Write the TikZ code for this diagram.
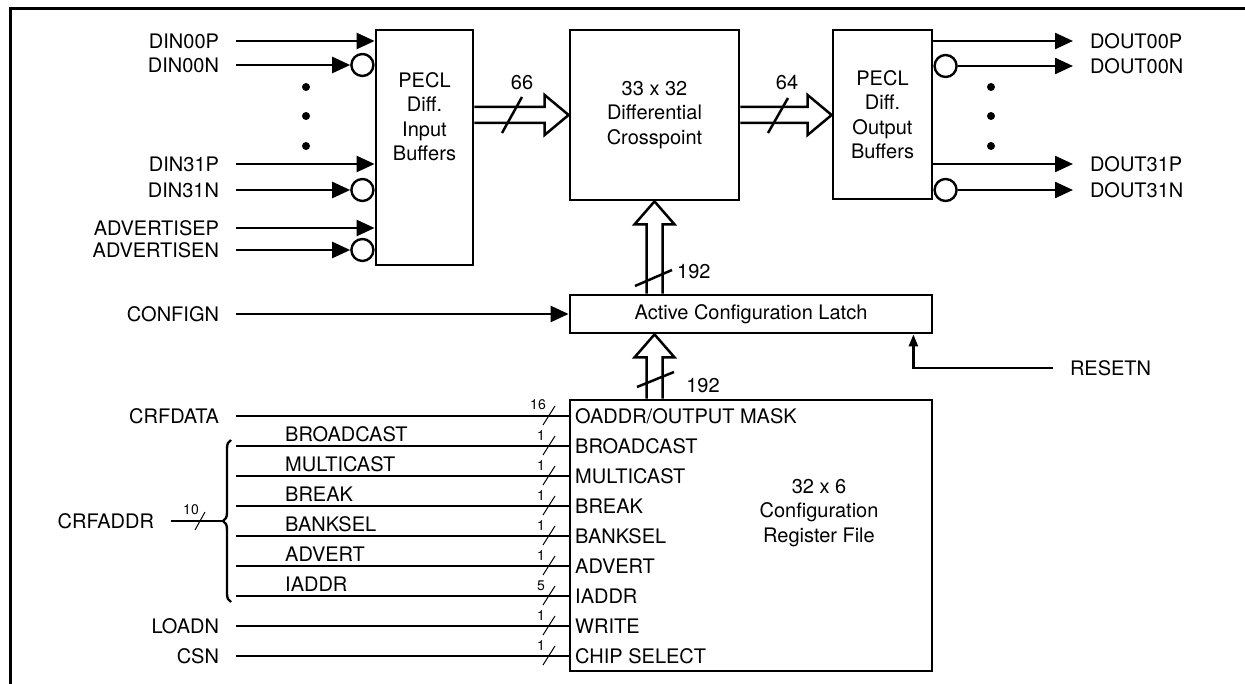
\documentclass[tikz,border=0pt]{standalone}
\usepackage{fontspec}
\setmainfont{TeX Gyre Heros}
\usetikzlibrary{arrows.meta, positioning, calc, decorations.pathreplacing}

\newcommand{\sigfont}{\fontsize{20}{24.5}\selectfont}
\newcommand{\widthfont}{\fontsize{14}{16}\selectfont}
% hollow bus arrows: #1 start, #2 tip
\newcommand{\hbus}[2]{\draw[bus] let \p1=(#1), \p2=(#2) in
    (\x1,\y1+8pt) -- (\x2-24pt,\y1+8pt) -- (\x2-24pt,\y1+20pt) -- (\x2,\y1)
    -- (\x2-24pt,\y1-20pt) -- (\x2-24pt,\y1-8pt) -- (\x1,\y1-8pt);}
\newcommand{\vbus}[2]{\draw[bus] let \p1=(#1), \p2=(#2) in
    (\x1-8pt,\y1) -- (\x1-8pt,\y2-23pt) -- (\x1-20pt,\y2-23pt) -- (\x1,\y2)
    -- (\x1+20pt,\y2-23pt) -- (\x1+8pt,\y2-23pt) -- (\x1+8pt,\y1);}

\tikzset{
    % Block styles
    blockbox/.style={
        rectangle,
        draw,
        line width=2.8pt,
        inner sep=0pt,
        align=center,
        font=\sigfont
    },
    bubble/.style={
        circle,
        draw,
        line width=2.4pt,
        minimum size=22pt,
        inner sep=0pt
    },
    % Label styles
    pinleft/.style={
        anchor=east,
        inner sep=0pt,
        outer xsep=17pt,
        text height=14.3pt,
        text depth=0pt,
        font=\sigfont
    },
    pinright/.style={
        pinleft,
        anchor=west
    },
    rowlabel/.style={
        anchor=west,
        inner sep=0pt,
        text height=14.3pt,
        text depth=0pt,
        font=\sigfont
    },
    branchlabel/.style={
        rowlabel,
        anchor=south west
    },
    buslabel/.style={
        inner sep=0pt,
        text height=14.3pt,
        text depth=0pt,
        font=\sigfont
    },
    widthlabel/.style={
        anchor=south east,
        inner sep=0pt,
        font=\widthfont
    },
    % Line styles
    sigline/.style={
        line width=2.4pt
    },
    sigarrow/.style={
        sigline,
        -{Triangle[length=18pt,width=16pt]}
    },
    smallarrow/.style={
        sigline,
        -{Triangle[length=12pt,width=9pt]}
    },
    bus/.style={
        line width=2.5pt,
        line join=miter
    },
    busslash/.style={
        line width=2.5pt
    },
    widthslash/.style={
        line width=1pt
    },
    frame/.style={
        line width=3pt
    }
}

\begin{document}
\begin{tikzpicture}[x=1pt, y=-1pt]
    \useasboundingbox (0,0) rectangle (1245,684);
    \draw[frame] (10,684) -- (10,9) -- (1250,9);

    % Blocks
    \node[blockbox, minimum width=97pt, minimum height=235pt] (inbuf) at (424.5,147.5) {};
    \node[font=\sigfont, align=center] (inbuftext) at (424.5,116.5) {PECL\\Diff.\\Input\\Buffers};
    \node[blockbox, minimum width=169pt, minimum height=170pt] (xpt) at (654.5,115) {33 x 32\\Differential\\Crosspoint};
    \node[blockbox, minimum width=99pt, minimum height=169pt] (outbuf) at (882.5,114.5) {PECL\\Diff.\\Output\\Buffers};
    \node[blockbox, minimum width=362pt, minimum height=38pt] (latch) at (751,314) {Active Configuration Latch};
    \node[blockbox, minimum width=362pt, minimum height=271pt] (crf) at (751,535.5) {};
    \node[font=\sigfont, align=center] (crftext) at (819,513) {32 x 6\\Configuration\\Register File};

    % Differential inputs
    \node[pinleft] (din00p) at (236,41) {DIN00P};
    \node[pinleft] (din00n) at (236,65) {DIN00N};
    \node[pinleft] (din31p) at (236,164) {DIN31P};
    \node[pinleft] (din31n) at (236,190) {DIN31N};
    \node[pinleft] (advp) at (236,228) {ADVERTISEP};
    \node[pinleft] (advn) at (236,250) {ADVERTISEN};
    \node[bubble, anchor=east] (bdin00n) at (din00n.east -| inbuf.west) {};
    \node[bubble, anchor=east] (bdin31n) at (din31n.east -| inbuf.west) {};
    \node[bubble, anchor=east] (badvn) at (advn.east -| inbuf.west) {};
    \draw[sigarrow] (din00p.east) -- (din00p.east -| inbuf.west);
    \draw[sigarrow] (din00n.east) -- (bdin00n.west);
    \draw[sigarrow] (din31p.east) -- (din31p.east -| inbuf.west);
    \draw[sigarrow] (din31n.east) -- (bdin31n.west);
    \draw[sigarrow] (advp.east) -- (advp.east -| inbuf.west);
    \draw[sigarrow] (advn.east) -- (badvn.west);
    \fill (306,87) circle (4pt) (306,116) circle (4pt) (306,146) circle (4pt);

    % Differential outputs
    \node[pinright] (dout00p) at (1073,41) {DOUT00P};
    \node[pinright] (dout00n) at (1073,66) {DOUT00N};
    \node[pinright] (dout31p) at (1073,164) {DOUT31P};
    \node[pinright] (dout31n) at (1073,190) {DOUT31N};
    \node[bubble, anchor=west] (bdout00n) at (outbuf.east |- dout00n.west) {};
    \node[bubble, anchor=west] (bdout31n) at (outbuf.east |- dout31n.west) {};
    \draw[sigarrow] (outbuf.east |- dout00p.west) -- (dout00p.west);
    \draw[sigarrow] (bdout00n.east) -- (dout00n.west);
    \draw[sigarrow] (outbuf.east |- dout31p.west) -- (dout31p.west);
    \draw[sigarrow] (bdout31n.east) -- (dout31n.west);
    \fill (991,87) circle (4pt) (991,116) circle (4pt) (991,146) circle (4pt);

    % Buses
    \hbus{inbuf.east |- xpt.west}{xpt.west}
    \hbus{xpt.east}{outbuf.west |- xpt.east}
    \vbus{xpt.south |- latch.north}{xpt.south}
    \vbus{xpt.south |- crf.north}{xpt.south |- latch.south}
    \draw[busslash] (502,133) -- (522,97);
    \node[buslabel] (n66) at (522,82) {66};
    \draw[busslash] (768,133) -- (788,98);
    \node[buslabel] (n64) at (787,82) {64};
    \draw[busslash] (635,286) -- (672,270);
    \node[buslabel, anchor=west] (n192a) at (677,271) {192};
    \draw[busslash] (637,387) -- (674,372);
    \node[buslabel] (n192b) at (703,385) {192};

    % Latch controls
    \node[pinleft] (confign) at (236,314) {CONFIGN};
    \draw[sigarrow] (confign.east) -- (latch.west);
    \node[pinright] (resetn) at (1053,368) {RESETN};
    \draw[smallarrow] (resetn.west) -| ($(latch.south east)+(-20,0)$);

    % Register file ports
    \node[rowlabel] (roaddr) at (575,416) {OADDR/OUTPUT MASK};
    \node[rowlabel] (rbcast) at (575,446) {BROADCAST};
    \node[rowlabel] (rmcast) at (575,476) {MULTICAST};
    \node[rowlabel] (rbreak) at (575,506) {BREAK};
    \node[rowlabel] (rbank) at (575,536) {BANKSEL};
    \node[rowlabel] (radvert) at (575,566) {ADVERT};
    \node[rowlabel] (riaddr) at (575,596) {IADDR};
    \node[rowlabel] (rwrite) at (575,626) {WRITE};
    \node[rowlabel] (rcs) at (575,656) {CHIP SELECT};

    \node[pinleft] (crfdata) at (236,416) {CRFDATA};
    \node[pinleft] (loadn) at (236,626) {LOADN};
    \node[pinleft] (csn) at (236,656) {CSN};
    \draw[sigline] (crfdata.east) -- (roaddr.west -| crf.west);
    \draw[sigline] (loadn.east) -- (rwrite.west -| crf.west);
    \draw[sigline] (csn.east) -- (rcs.west -| crf.west);

    % CRFADDR split
    \coordinate (bbcast) at (236,446);
    \coordinate (bmcast) at (236,476);
    \coordinate (bbreak) at (236,506);
    \coordinate (bbank) at (236,536);
    \coordinate (badvert) at (236,566);
    \coordinate (biaddr) at (236,596);
    \draw[sigline] (bbcast) -- (rbcast.west -| crf.west);
    \draw[sigline] (bmcast) -- (rmcast.west -| crf.west);
    \draw[sigline] (bbreak) -- (rbreak.west -| crf.west);
    \draw[sigline] (bbank) -- (rbank.west -| crf.west);
    \draw[sigline] (badvert) -- (radvert.west -| crf.west);
    \draw[sigline] (biaddr) -- (riaddr.west -| crf.west);
    \node[branchlabel] (lbcast) at (285,442) {BROADCAST};
    \node[branchlabel] (lmcast) at (285,472) {MULTICAST};
    \node[branchlabel] (lbreak) at (285,502) {BREAK};
    \node[branchlabel] (lbank) at (285,532) {BANKSEL};
    \node[branchlabel] (ladvert) at (285,562) {ADVERT};
    \node[branchlabel] (liaddr) at (285,592) {IADDR};
    \draw[sigline, decorate, decoration={brace, amplitude=8pt}] (231,602) -- (231,440);
    \coordinate (bracetip) at (223,521);
    \node[pinleft] (crfaddr) at (171,521) {CRFADDR};
    \draw[sigline] (crfaddr.east) -- (bracetip);
    \draw[widthslash] (195,530) -- (205,512);
    \node[widthlabel] (w10) at (199,515) {10};

    % Bus widths
    \draw[widthslash] (543,425) -- (555,406);
    \node[widthlabel] (w16) at (546,410) {16};
    \draw[widthslash] (543,455) -- (555,436);
    \node[widthlabel] (wbcast) at (545,441) {1};
    \draw[widthslash] (543,485) -- (555,466);
    \node[widthlabel] (wmcast) at (545,471) {1};
    \draw[widthslash] (543,515) -- (555,496);
    \node[widthlabel] (wbreak) at (545,501) {1};
    \draw[widthslash] (543,545) -- (555,526);
    \node[widthlabel] (wbank) at (545,531) {1};
    \draw[widthslash] (543,575) -- (555,556);
    \node[widthlabel] (wadvert) at (545,561) {1};
    \draw[widthslash] (543,605) -- (555,586);
    \node[widthlabel] (wiaddr) at (545,591) {5};
    \draw[widthslash] (543,635) -- (555,616);
    \node[widthlabel] (wwrite) at (545,621) {1};
    \draw[widthslash] (543,665) -- (555,646);
    \node[widthlabel] (wcs) at (545,651) {1};
\end{tikzpicture}
\end{document}
